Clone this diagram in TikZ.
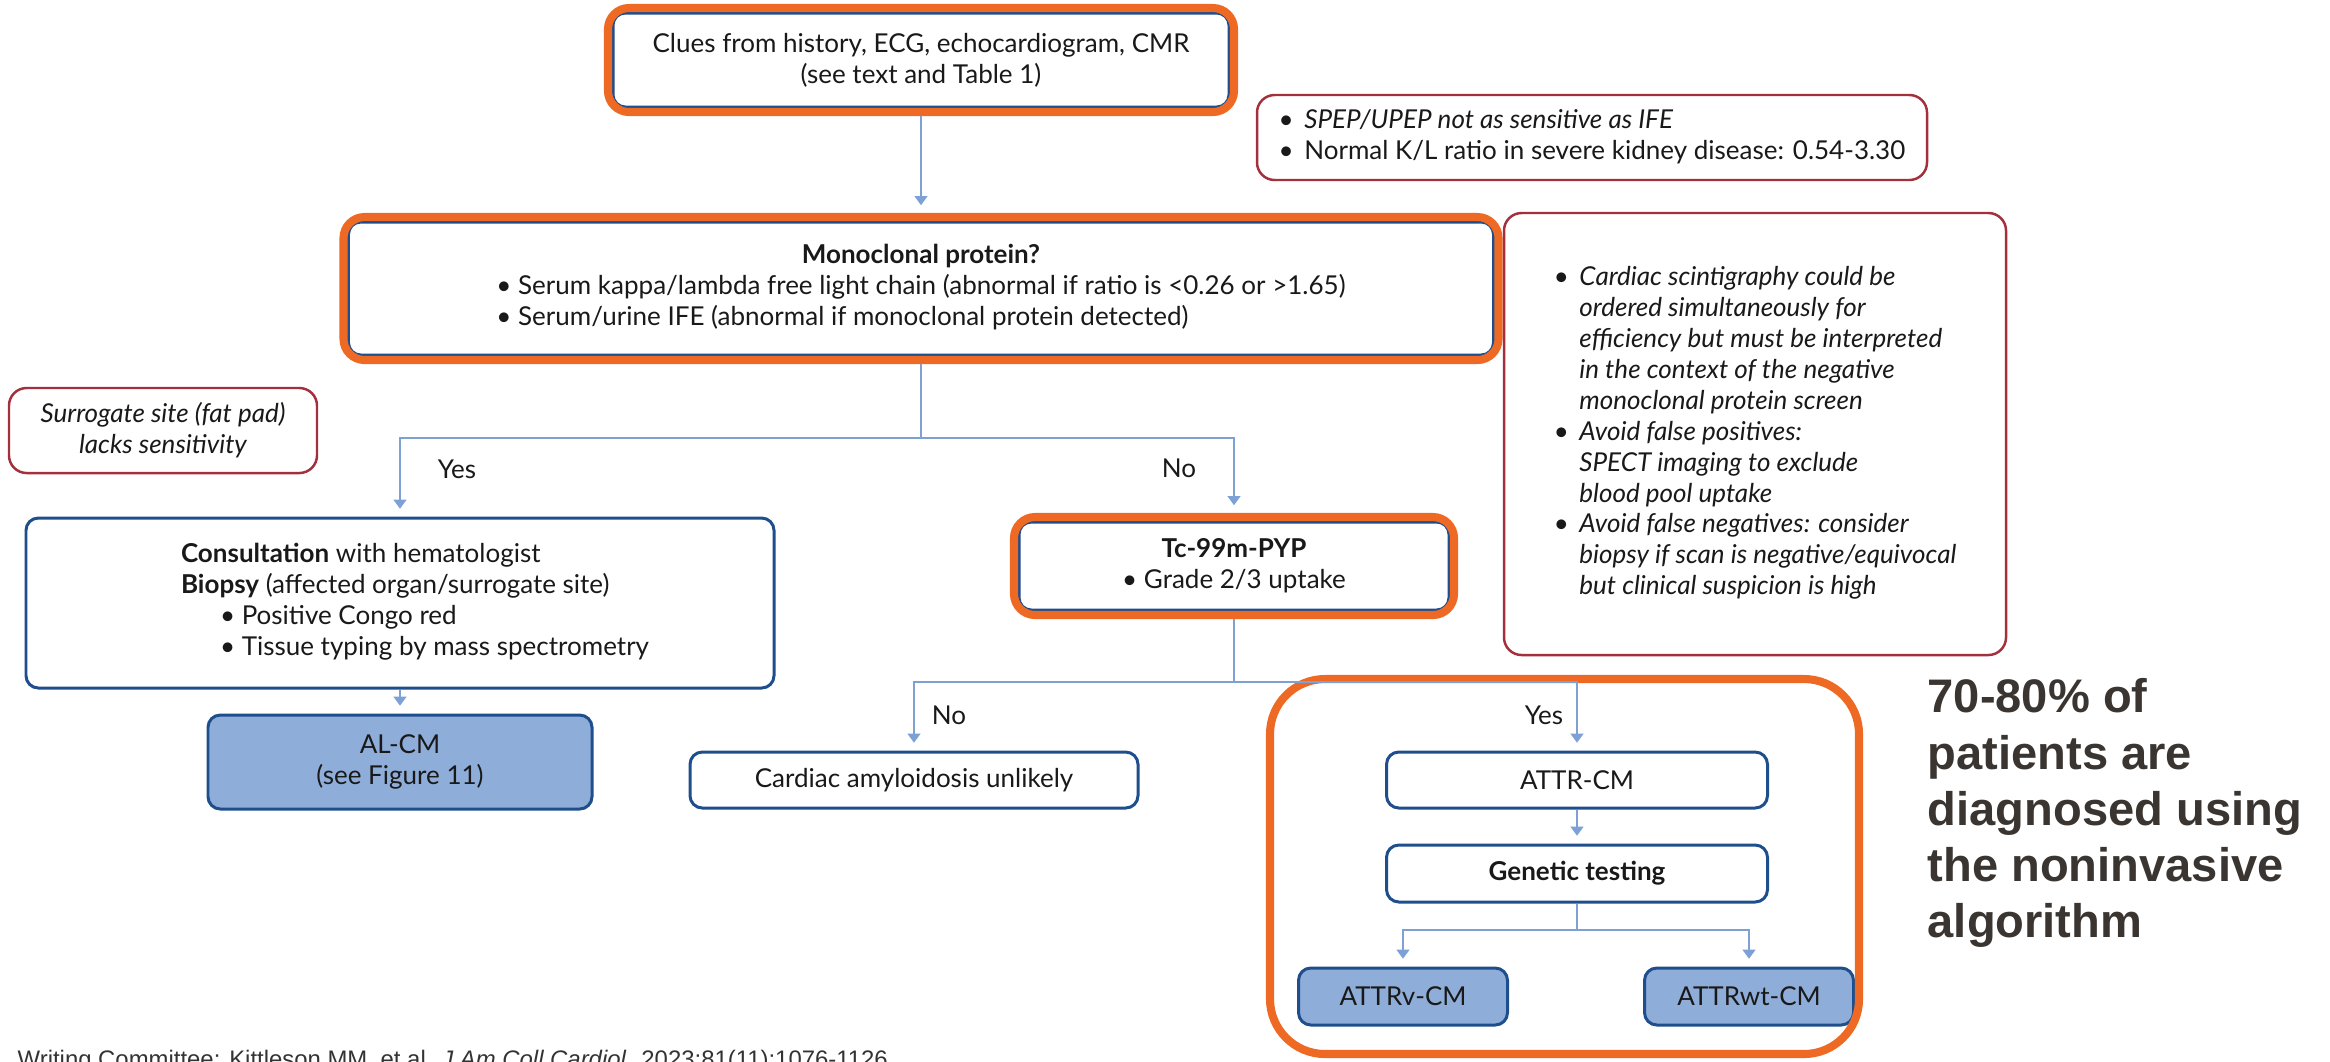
\documentclass[tikz,border=0pt]{standalone}
\usepackage{fontspec}
\setmainfont{Lato}
\newfontfamily\arialfont{Liberation Sans}
\usetikzlibrary{arrows.meta,fit}
\definecolor{hlorange}{HTML}{EE6A24}
\definecolor{boxblue}{HTML}{1F4E8D}
\definecolor{lineblue}{HTML}{7EA1D5}
\definecolor{notered}{HTML}{A3303D}
\definecolor{fillblue}{HTML}{8FADD9}
\definecolor{statgray}{HTML}{3A3531}

\begin{document}
\begin{tikzpicture}[font=\fontsize{7.4}{8.8}\selectfont,
	box/.style={draw=boxblue,line width=0.85pt,rounded corners=3.5pt,fill=white,text=black!90,inner sep=0pt,align=center},
	endbox/.style={box,fill=fillblue},
	note/.style={draw=notered,line width=0.7pt,rounded corners=5pt,fill=white,text=black!90,inner sep=0pt,align=center},
	hilite/.style={draw=hlorange,line width=2.3pt,rounded corners=6pt,inner sep=1pt},
	conn/.style={draw=lineblue,line width=0.6pt},
	arr/.style={conn,-{Triangle[width=3.6pt,length=2.6pt]},shorten >=2.2pt},
	lbl/.style={text=black!90,inner sep=0pt}]
		\useasboundingbox (0,0) rectangle (23.30,-10.61);
		\node[box,minimum width=6.16cm,minimum height=0.94cm] (clues) at (9.21,-0.60)
			{Clues from history, ECG, echocardiogram, CMR\\(see text and Table 1)};
		\node[hilite,fit=(clues)] (cluesHL) {};
		\node[note,minimum width=6.70cm,minimum height=0.85cm] (spep) at (15.92,-1.375)
			{\begin{tabular}{@{}l@{\hspace{3pt}}l@{}}
				• & \itshape SPEP/UPEP not as sensitive as IFE\\
				• & Normal K/L ratio in severe kidney disease: 0.54-3.30
			\end{tabular}};
		\node[box,minimum width=11.45cm,minimum height=1.33cm] (mono) at (9.21,-2.885)
			{\begin{tabular}{@{}l@{}}
				\multicolumn{1}{@{}c@{}}{\bfseries Monoclonal protein?}\\
				• Serum kappa/lambda free light chain (abnormal if ratio is <0.26 or >1.65)\\
				• Serum/urine IFE (abnormal if monoclonal protein detected)
			\end{tabular}};
		\node[hilite,fit=(mono)] (monoHL) {};
		\node[note,minimum width=5.02cm,minimum height=4.42cm,font=\fontsize{7.4}{8.8}\selectfont\itshape] (scint) at (17.55,-4.34)
			{\begin{tabular}{@{}l@{\hspace{3pt}}l@{}}
				• & Cardiac scintigraphy could be\\
				& ordered simultaneously for\\
				& efficiency but must be interpreted\\
				& in the context of the negative\\
				& monoclonal protein screen\\
				• & Avoid false positives:\\
				& SPECT imaging to exclude\\
				& blood pool uptake\\
				• & Avoid false negatives: consider\\
				& biopsy if scan is negative/equivocal\\
				& but clinical suspicion is high
			\end{tabular}};
		\node[note,minimum width=3.08cm,minimum height=0.85cm,font=\fontsize{7.4}{8.8}\selectfont\itshape] (surr) at (1.63,-4.305)
			{Surrogate site (fat pad)\\lacks sensitivity};
		\node[box,minimum width=7.48cm,minimum height=1.70cm] (consult) at (4.00,-6.03)
			{\hspace*{0.30cm}\begin{tabular}{@{}l@{}}
				\textbf{Consultation} with hematologist\\
				\textbf{Biopsy} (affected organ/surrogate site)\\
				\hspace{0.39cm}• Positive Congo red\\
				\hspace{0.39cm}• Tissue typing by mass spectrometry
			\end{tabular}};
		\node[endbox,minimum width=3.84cm,minimum height=0.94cm] (alcm) at (4.00,-7.62)
			{AL-CM\\(see Figure 11)};
		\node[box,minimum width=4.30cm,minimum height=0.88cm] (tc) at (12.34,-5.66)
			{\textbf{Tc-99m-PYP}\\• Grade 2/3 uptake};
		\node[hilite,fit=(tc)] (tcHL) {};
		\node[box,minimum width=4.48cm,minimum height=0.56cm] (cardiac) at (9.14,-7.80)
			{Cardiac amyloidosis unlikely};
		\node[box,minimum width=3.81cm,minimum height=0.56cm] (attr) at (15.77,-7.80) {ATTR-CM};
		\node[box,minimum width=3.81cm,minimum height=0.57cm] (gen) at (15.77,-8.735) {\textbf{Genetic testing}};
		\node[endbox,minimum width=2.09cm,minimum height=0.57cm] (attrv) at (14.03,-9.965) {ATTRv-CM};
		\node[endbox,minimum width=2.09cm,minimum height=0.57cm] (attrwt) at (17.49,-9.965) {ATTRwt-CM};
		\draw[hilite,rounded corners=0.55cm] (12.70,-6.79) rectangle (18.59,-10.54);

		\node[lbl] (yesA) at (4.57,-4.69) {Yes};
		\node[lbl] (noA) at (11.79,-4.68) {No};
		\node[lbl] (noB) at (9.49,-7.15) {No};
		\node[lbl] (yesB) at (15.44,-7.15) {Yes};

		\coordinate (split1) at (9.21,-4.38);
		\coordinate (split2) at (12.34,-6.82);
		\coordinate (split3) at (15.77,-9.30);
		\draw[arr] (cluesHL.south) -- (cluesHL.south |- monoHL.north);
		\draw[conn] (monoHL.south) -- (split1);
		\draw[arr] (split1) -| (consult.north);
		\draw[arr] (split1) -| (tcHL.north);
		\draw[arr] (consult) -- (alcm);
		\draw[conn] (tcHL.south) -- (split2);
		\draw[arr] (split2) -| (cardiac.north);
		\draw[arr] (split2) -| (attr.north);
		\draw[arr] (attr) -- (gen);
		\draw[conn] (gen.south) -- (split3);
		\draw[arr] (split3) -| (attrv.north);
		\draw[arr] (split3) -| (attrwt.north);

		\node[anchor=north west,inner sep=0pt,align=left,text=statgray,font=\arialfont\bfseries\fontsize{13.4}{16}\selectfont] (stat) at (19.27,-6.78)
			{70-80\% of\\patients are\\diagnosed using\\the noninvasive\\algorithm};
		\node[anchor=base west,inner sep=0pt,text=black!80,font=\arialfont\fontsize{6.8}{8}\selectfont] (cite) at (0.17,-10.67)
			{Writing Committee: Kittleson MM, et al. \textit{J Am Coll Cardiol}. 2023;81(11):1076-1126.};
\end{tikzpicture}
\end{document}
